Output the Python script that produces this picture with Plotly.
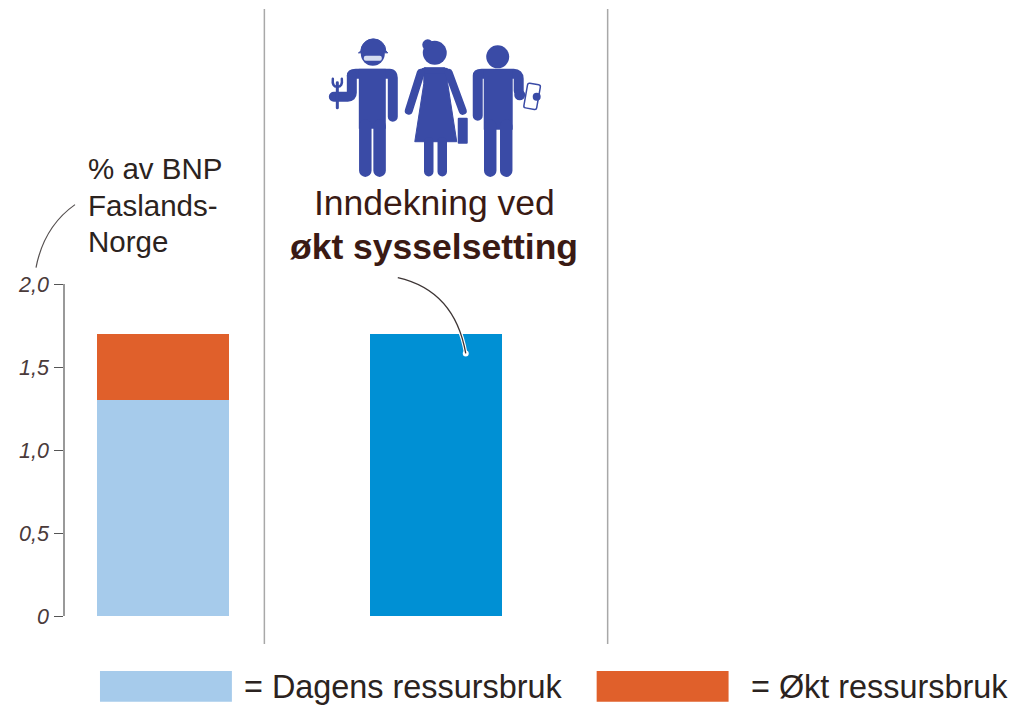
import base64
import plotly.graph_objects as go

# Data
categories = ["Ressursbruk", "Inndekning", "Tom"]
dagens_ressursbruk = [1.3, None, None]
okt_ressursbruk = [0.4, None, None]
okt_sysselsetting = [None, 1.7, None]
tick_values = [0, 0.5, 1.0, 1.5, 2.0]
tick_labels = ["0", "0,5", "1,0", "1,5", "2,0"]

C_LIGHT = "#a6cbeb"
C_ORANGE = "#e0602b"
C_BLUE = "#0090d4"
C_ICON = "#3a4ba6"
C_TEXT = "#2b2320"
C_DARK = "#3a1a14"
FONT = "Liberation Sans"

W, H = 1015, 705
L, R, T, B = 65, 845.5, 283.5, 616


def px(x):
    return (x - L) / (R - L)


def py(y):
    return (B - y) / (B - T)


def curve(x0, y0, cx, cy, x1, y1):
    return f"M {px(x0)} {py(y0)} Q {px(cx)} {py(cy)} {px(x1)} {py(y1)}"


fig = go.Figure()
bar_w = 132 / 273
fig.add_bar(x=categories, y=dagens_ressursbruk, name="Dagens ressursbruk",
            marker=dict(color=C_LIGHT, line_width=0), width=bar_w)
fig.add_bar(x=categories, y=okt_ressursbruk, name="Økt ressursbruk",
            marker=dict(color=C_ORANGE, line_width=0), width=bar_w)
fig.add_bar(x=categories, y=okt_sysselsetting, name="Økt sysselsetting",
            marker=dict(color=C_BLUE, line_width=0), width=bar_w)

shapes = []
# panel dividers
for xp in (264.5, 608):
    shapes.append(dict(type="line", xref="paper", yref="paper", x0=px(xp), x1=px(xp),
                       y0=py(8), y1=py(644), line=dict(color="#a8a8a8", width=1.5)))
# leader lines
shapes.append(dict(type="path", xref="paper", yref="paper",
                   path=curve(75, 204, 44, 226, 36, 267),
                   line=dict(color="#555050", width=1.2)))
leader2 = curve(398, 277, 455, 290, 466, 353)
shapes.append(dict(type="path", xref="paper", yref="paper", path=leader2,
                   line=dict(color="#ffffff", width=3.5)))
shapes.append(dict(type="circle", xref="paper", yref="paper",
                   x0=px(463), x1=px(469), y0=py(350), y1=py(356),
                   fillcolor="#ffffff", line=dict(color="#ffffff", width=0)))
shapes.append(dict(type="path", xref="paper", yref="paper", path=leader2,
                   line=dict(color="#3d3535", width=1.3)))
# legend swatches
for x0, x1, c in ((100, 232, C_LIGHT), (597, 729, C_ORANGE)):
    shapes.append(dict(type="rect", xref="paper", yref="paper", x0=px(x0), x1=px(x1),
                       y0=py(671), y1=py(702), fillcolor=c, line_width=0))


def label(text, x, y, size, anchor="left", bold=False, color=C_TEXT):
    return dict(text=f"<b>{text}</b>" if bold else text, xref="paper", yref="paper",
                x=px(x), y=py(y), xanchor=anchor, yanchor="middle", showarrow=False,
                font=dict(family=FONT, size=size, color=color))


annotations = [
    label("% av BNP", 86, 168, 29.5),
    label("Faslands-", 86, 205, 29.5),
    label("Norge", 86, 241, 29.5),
    label("Inndekning ved", 434.5, 202, 35.5, "center", color=C_DARK),
    label("økt sysselsetting", 434, 246, 35.5, "center", True, C_DARK),
    label("= Dagens ressursbruk", 242, 687, 32.4),
    label("= Økt ressursbruk", 749, 687, 32.4),
]

# workers pictogram, drawn in page pixels
svg = f"""<svg xmlns='http://www.w3.org/2000/svg' width='240' height='160' viewBox='320 30 240 160'>
<g fill='{C_ICON}' stroke='{C_ICON}' stroke-linecap='round' stroke-linejoin='round'>
<g>
<circle cx='373' cy='53' r='12' stroke='none'/>
<path d='M361 50 a12.500 12 0 0 1 25 0 l2 2 h-29 z' stroke-width='1'/>
<path d='M352 75 Q352 73 356 73 H390 Q393 73 393 77 V116' fill='none' stroke-width='10'/>
<rect x='359' y='68' width='27' height='60' stroke='none'/>
<path d='M365.500 125 V170 M379.800 125 V170' fill='none' stroke-width='12.500'/>
<path d='M352 75 V92 Q352 96 348 96 H334' fill='none' stroke-width='10'/>
<path d='M337.500 82 V107' fill='none' stroke-width='3'/>
<path d='M333 78 Q332 86 337.500 86 Q343 86 342 78' fill='none' stroke-width='2.500'/>
<rect x='364' y='55' width='18' height='5' rx='2' fill='#d5dcf0' stroke='none'/>
</g>
<g>
<circle cx='435' cy='52' r='12' stroke='none'/>
<circle cx='428' cy='44' r='5.500' stroke='none'/>
<path d='M425 67 H445 Q448 68 448 83 L457 141 H415 L424 83 Q424 68 425 67 Z' stroke-width='1'/>
<path d='M424 70 H446' fill='none' stroke-width='6'/>
<path d='M421 72 L409 110' fill='none' stroke-width='8'/>
<path d='M449 72 L463 110' fill='none' stroke-width='8'/>
<path d='M429 141 V171 M442.500 141 V171' fill='none' stroke-width='9.500'/>
<rect x='458' y='117' width='10' height='26' rx='1' stroke='none'/>
</g>
<g>
<circle cx='498' cy='56' r='11.500' stroke='none'/>
<path d='M478 115 V75 Q478 73 482 73 H514 Q519 73 519 78 V90' fill='none' stroke-width='10'/>
<rect x='484' y='69' width='29' height='60' stroke='none'/>
<path d='M490.500 125 V170 M506.500 125 V170' fill='none' stroke-width='12.500'/>
<circle cx='520' cy='94' r='5.500' stroke='none'/>
<rect x='526' y='83' width='13' height='25' rx='2' transform='rotate(10 532 95)' fill='#ffffff' stroke-width='1.500'/>
<circle cx='537' cy='96' r='4' stroke='none'/>
</g>
</g></svg>"""
icon_uri = "data:image/svg+xml;base64," + base64.b64encode(svg.encode()).decode()

fig.update_layout(
    width=W, height=H, autosize=False, barmode="stack", showlegend=False,
    paper_bgcolor="#ffffff", plot_bgcolor="#ffffff",
    margin=dict(l=L, r=W - R, t=T, b=H - B, pad=0),
    font=dict(family=FONT, color=C_TEXT),
    xaxis=dict(type="category", categoryorder="array", categoryarray=categories,
               range=[-(163 - L) / 273, (R - 163) / 273], showticklabels=False,
               ticks="", showgrid=False, zeroline=False, showline=False, fixedrange=True),
    yaxis=dict(range=[0, 2], tickvals=tick_values, ticktext=tick_labels, ticks="outside",
               ticklen=9, tickwidth=1, tickcolor="#555555", showline=True, linecolor="#999999",
               linewidth=1.5, showgrid=False, zeroline=False, ticklabelstandoff=1,
               tickfont=dict(family=FONT, size=21.5, color="#4a3a3a", style="italic"),
               fixedrange=True),
    shapes=shapes,
    annotations=annotations,
    images=[dict(source=icon_uri, xref="paper", yref="paper", x=px(320), y=py(30),
                 sizex=240 / (R - L), sizey=160 / (B - T), xanchor="left", yanchor="top",
                 sizing="stretch", layer="above")],
)

fig.write_html("out.html", config=dict(displayModeBar=False),
               post_script="document.body.style.margin='0';document.documentElement.style.overflow='hidden';")
